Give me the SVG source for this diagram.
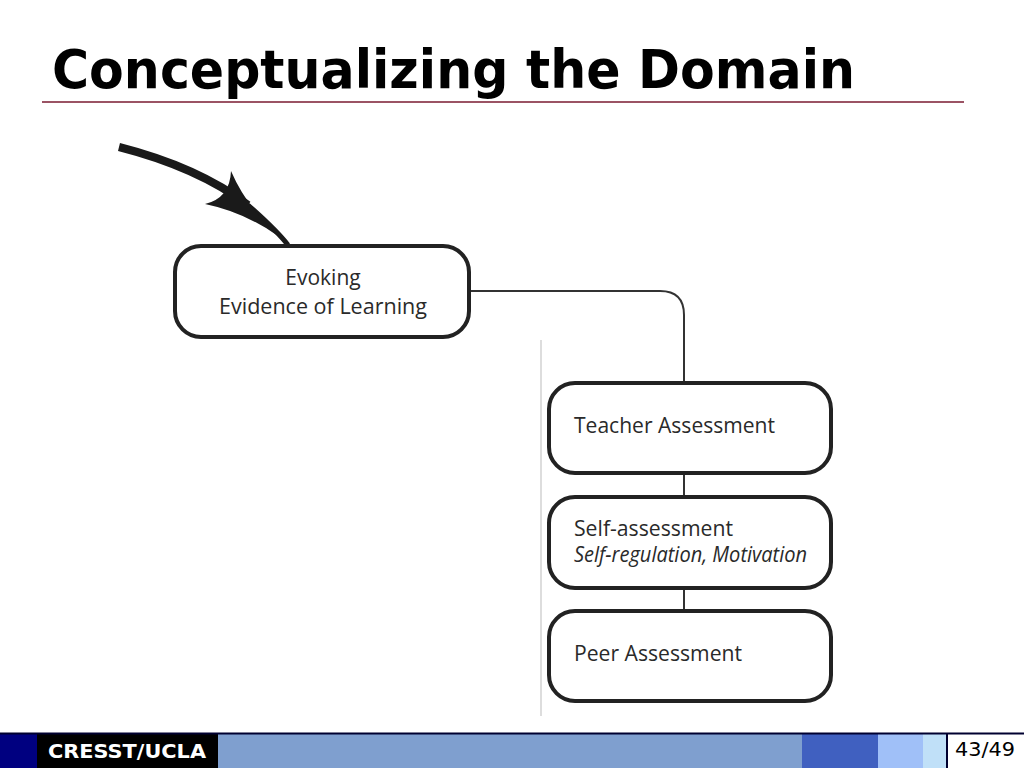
<svg xmlns="http://www.w3.org/2000/svg" width="1024" height="768" viewBox="0 0 1024 768">
<style>
.box{fill:#fff;stroke:#222;stroke-width:4}
.lbl{font-family:"Open Sans","Noto Sans",sans-serif;font-size:21px;fill:#2a2a2a}
.conn{fill:none;stroke:#333;stroke-width:2}
</style>
<rect width="1024" height="768" fill="#fff"/>
<text x="52" y="88" font-family="DejaVu Sans, Verdana, sans-serif" font-weight="bold" font-size="54" textLength="803" lengthAdjust="spacingAndGlyphs" fill="#000">Conceptualizing the Domain</text>
<line x1="42" y1="102" x2="964" y2="102" stroke="#7a1a30" stroke-width="1.5"/>
<g id="connectors">
<path d="M119,147 C170,160 215,180 248,205" fill="none" stroke="#1a1a1a" stroke-width="8"/>
<path d="M248,205 C265,220 278,232 288,245" fill="none" stroke="#1a1a1a" stroke-width="5"/>
<path d="M231,171 Q246,206 278,236 Q244,212 205,204 Q230,198 231,171 Z" fill="#1a1a1a"/>
<path class="conn" d="M469,291 H660 Q684,291 684,315 V382"/>
<line class="conn" x1="684" y1="473" x2="684" y2="496"/>
<line class="conn" x1="684" y1="588" x2="684" y2="610"/>
<line x1="541" y1="340" x2="541" y2="716" stroke="#bbb" stroke-width="1"/>
</g>
<g id="evoking">
<rect class="box" x="175" y="246" width="294" height="91" rx="26"/>
<text class="lbl" x="323" y="285" text-anchor="middle">Evoking</text>
<text class="lbl" x="323" y="314" text-anchor="middle" textLength="208" lengthAdjust="spacingAndGlyphs">Evidence of Learning</text>
</g>
<g id="teacher">
<rect class="box" x="549" y="383" width="282" height="90" rx="26"/>
<text class="lbl" x="574" y="433" textLength="201" lengthAdjust="spacingAndGlyphs">Teacher Assessment</text>
</g>
<g id="self">
<rect class="box" x="549" y="497" width="282" height="91" rx="26"/>
<text class="lbl" x="574" y="536" textLength="159" lengthAdjust="spacingAndGlyphs">Self-assessment</text>
<text class="lbl" x="574" y="562" font-style="italic" font-size="19" textLength="233" lengthAdjust="spacingAndGlyphs">Self-regulation, Motivation</text>
</g>
<g id="peer">
<rect class="box" x="549" y="611" width="282" height="90" rx="26"/>
<text class="lbl" x="574" y="661" textLength="168" lengthAdjust="spacingAndGlyphs">Peer Assessment</text>
</g>
<g id="footer">
<rect x="0" y="733" width="37" height="35" fill="#000080"/>
<rect x="37" y="733" width="181" height="35" fill="#000"/>
<rect x="218" y="733" width="584" height="35" fill="#7f9fcf"/>
<rect x="802" y="733" width="76" height="35" fill="#4060c0"/>
<rect x="878" y="733" width="45" height="35" fill="#a0c0f8"/>
<rect x="923" y="733" width="23" height="35" fill="#c0e0f8"/>
<line x1="0" y1="733.5" x2="1024" y2="733.5" stroke="#000030" stroke-width="2"/>
<line x1="947" y1="733" x2="947" y2="768" stroke="#000030" stroke-width="2"/>
<text x="48" y="758" font-family="DejaVu Sans, Verdana, sans-serif" font-weight="bold" font-size="19" textLength="158" lengthAdjust="spacingAndGlyphs" fill="#fff">CRESST/UCLA</text>
<text x="955" y="756" font-family="DejaVu Sans, Verdana, sans-serif" font-size="20" textLength="60" lengthAdjust="spacingAndGlyphs" fill="#000">43/49</text>
</g>
</svg>
